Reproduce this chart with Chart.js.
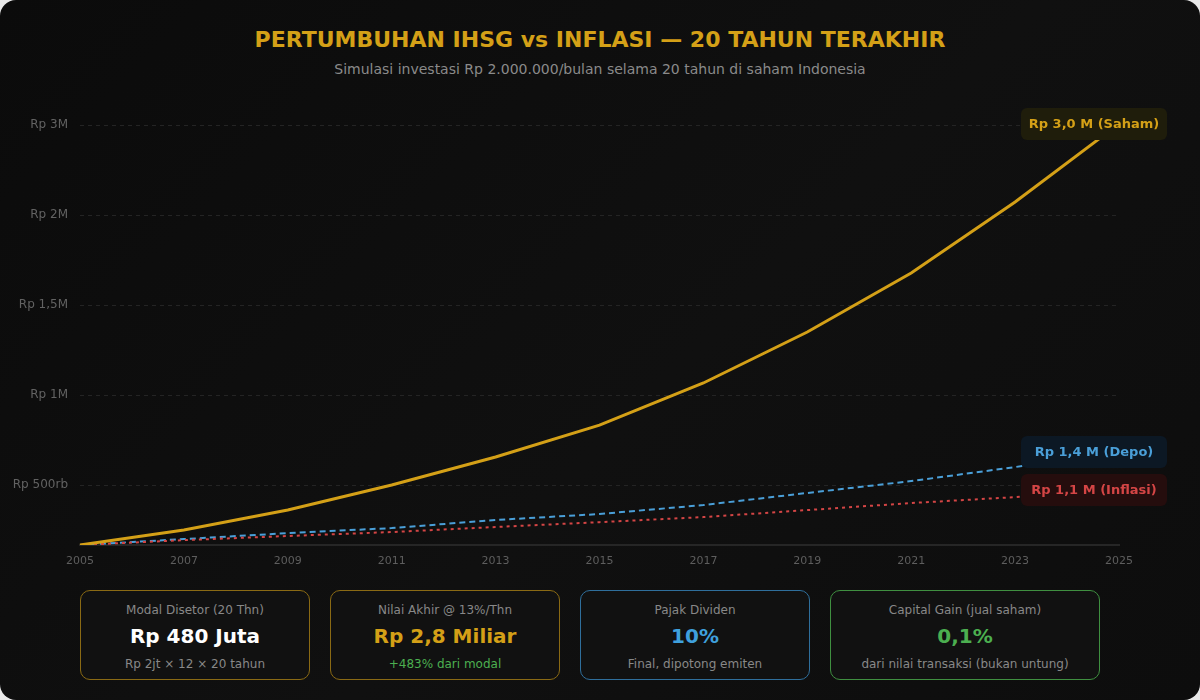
<!DOCTYPE html>
<html>
<head>
<meta charset="utf-8">
<title>IHSG vs Inflasi</title>
<script src="https://cdn.jsdelivr.net/npm/chart.js@4.4.0/dist/chart.umd.min.js"></script>
<style>
  html,body{margin:0;padding:0;background:#e9e9e9;}
  .wrap{position:relative;width:1200px;height:700px;border-radius:16px;overflow:hidden;
    background:linear-gradient(135deg,#0b0b0b 0%,#101010 55%,#0d0d0d 100%);
    font-family:"DejaVu Sans",sans-serif;}
  h1{position:absolute;top:27px;left:0;width:100%;margin:0;text-align:center;
    font-size:22px;line-height:26px;font-weight:bold;color:#d4a017;}
  .sub{position:absolute;top:61px;left:0;width:100%;text-align:center;font-size:14px;line-height:17px;color:#8a8a8a;}
  .chartbox{position:absolute;left:0;top:90px;width:1200px;height:485px;}
  .cards{position:absolute;top:590px;left:80px;display:flex;gap:20px;}
  .card{box-sizing:border-box;width:230px;height:90px;border:1px solid #8a6a14;border-radius:10px;
    background:#111;text-align:center;padding-top:11px;}
  .card.wide{width:270px;}
  .card .lbl{font-size:12px;line-height:16px;color:#888;}
  .card .val{font-size:20px;line-height:24px;font-weight:bold;margin-top:6px;color:#fff;}
  .card .note{font-size:12px;line-height:16px;margin-top:8px;color:#888;}
</style>
</head>
<body>
<div class="wrap">
  <h1>PERTUMBUHAN IHSG vs INFLASI — 20 TAHUN TERAKHIR</h1>
  <div class="sub">Simulasi investasi Rp 2.000.000/bulan selama 20 tahun di saham Indonesia</div>
  <div class="chartbox"><canvas id="growthChart"></canvas></div>
  <div class="cards">
    <div class="card">
      <div class="lbl">Modal Disetor (20 Thn)</div>
      <div class="val">Rp 480 Juta</div>
      <div class="note">Rp 2jt × 12 × 20 tahun</div>
    </div>
    <div class="card">
      <div class="lbl">Nilai Akhir @ 13%/Thn</div>
      <div class="val" style="color:#d4a017">Rp 2,8 Miliar</div>
      <div class="note" style="color:#4caf50">+483% dari modal</div>
    </div>
    <div class="card" style="border-color:#2f6f9c">
      <div class="lbl">Pajak Dividen</div>
      <div class="val" style="color:#3fa0dd">10%</div>
      <div class="note">Final, dipotong emiten</div>
    </div>
    <div class="card wide" style="border-color:#3f8f40">
      <div class="lbl">Capital Gain (jual saham)</div>
      <div class="val" style="color:#4caf50">0,1%</div>
      <div class="note">dari nilai transaksi (bukan untung)</div>
    </div>
  </div>
</div>

<script>
// values, in the chart's own y units
const years = ['2005','2007','2009','2011','2013','2015','2017','2019','2021','2023','2025'];
const saham   = [167, 250, 361, 500, 656, 833, 1067, 1350, 1678, 2072, 2506];
const depo    = [167, 200, 233, 261, 306, 339, 389, 456, 522, 600, 683];
const inflasi = [167, 194, 217, 239, 267, 294, 322, 361, 400, 433, 472];

const tickVals   = [500, 1000, 1500, 2000, 2500];
const tickLabels = ['Rp 500rb', 'Rp 1M', 'Rp 1,5M', 'Rp 2M', 'Rp 3M'];

const endLabels = ['Rp 3,0 M (Saham)', 'Rp 1,4 M (Depo)', 'Rp 1,1 M (Inflasi)'];
const endText   = ['#d4a017', '#4a9fd8', '#d44545'];
const endFill   = ['#1f1d0b', '#0c1824', '#250d0d'];

// tag box at the last point of each line
const endTags = {
  id:'endTags',
  afterDatasetsDraw(chart){
    const ctx = chart.ctx;
    ctx.save();
    ctx.font = 'bold 13px "DejaVu Sans", sans-serif';
    ctx.textAlign = 'center';
    ctx.textBaseline = 'middle';
    chart.data.datasets.forEach((ds, i)=>{
      const pts = chart.getDatasetMeta(i).data;
      const p = pts[pts.length-1];
      const x = p.x - 98, y = p.y - 16, w = 146, h = 32;
      ctx.fillStyle = endFill[i];
      ctx.beginPath();
      ctx.roundRect(x, y, w, h, 6);
      ctx.fill();
      ctx.fillStyle = endText[i];
      ctx.fillText(endLabels[i], x + w/2, p.y + 1);
    });
    ctx.restore();
  }
};

new Chart(document.getElementById('growthChart'), {
  type:'line',
  data:{
    labels: years,
    datasets:[
      {label:'Saham', data:saham, borderColor:'#d4a017', borderWidth:3, pointRadius:0, tension:0, order:0},
      {label:'Depo', data:depo, borderColor:'#4a9fd8', borderWidth:2, borderDash:[6,4], pointRadius:0, tension:0, order:2},
      {label:'Inflasi', data:inflasi, borderColor:'#d44545', borderWidth:2, borderDash:[3,4], pointRadius:0, tension:0, order:1}
    ]
  },
  options:{
    responsive:true,
    maintainAspectRatio:false,
    animation:false,
    layout:{padding:{top:35, right:81, left:0, bottom:0}},
    plugins:{legend:{display:false}, tooltip:{enabled:false}},
    scales:{
      x:{
        grid:{display:false, drawTicks:false},
        border:{display:true, color:'#262626', width:2},
        ticks:{color:'#5e5e5e', font:{family:'DejaVu Sans', size:11}, padding:10, maxRotation:0, autoSkip:false},
        afterFit(s){ s.height = 30; }
      },
      y:{
        min: Math.min(...saham),
        max: tickVals[tickVals.length-1],
        afterBuildTicks(s){ s.ticks = tickVals.map(v=>({value:v})); },
        grid:{color:'#242424', lineWidth:1, drawTicks:false},
        border:{display:false, dash:[4,4]},
        ticks:{
          color:'#626262', font:{family:'DejaVu Sans', size:12}, padding:12,
          callback(v){ const i = tickVals.indexOf(v); return i >= 0 ? tickLabels[i] : ''; }
        },
        afterFit(s){ s.width = 80; }
      }
    }
  },
  plugins:[endTags]
});
</script>
</body>
</html>
